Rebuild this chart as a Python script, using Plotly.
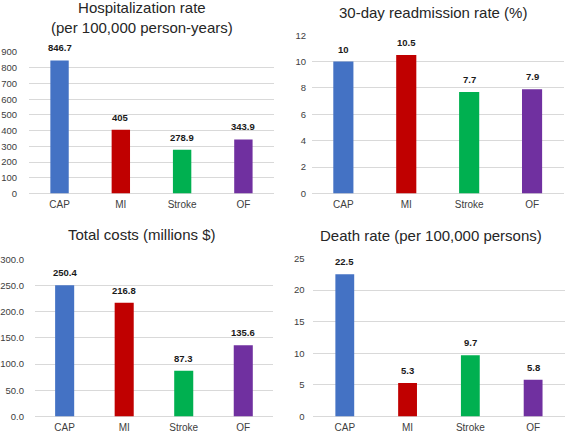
import plotly.graph_objects as go

W, H = 567, 438
categories = ["CAP", "MI", "Stroke", "OF"]
colors = ["#4472C4", "#C00000", "#00B050", "#7030A0"]

hosp_rate = [846.7, 405, 278.9, 343.9]
readmit_rate = [10, 10.5, 7.7, 7.9]
total_costs = [250.4, 216.8, 87.3, 135.6]
death_rate = [22.5, 5.3, 9.7, 5.8]

hosp_labels = ["846.7", "405", "278.9", "343.9"]
readmit_labels = ["10", "10.5", "7.7", "7.9"]
cost_labels = ["250.4", "216.8", "87.3", "135.6"]
death_labels = ["22.5", "5.3", "9.7", "5.8"]

titles = ["Hospitalization rate<br>(per 100,000 person-years)",
          "30-day readmission rate (%)",
          "Total costs (millions $)",
          "Death rate (per 100,000 persons)"]

FONT = "Arial, Liberation Sans, sans-serif"

# panel geometry in pixels: (x_left, x_right, y_bottom_px, y_top_px)
panels = [
    dict(vals=hosp_rate, labels=hosp_labels, x=(27, 273), y=(192.3, 47.3), rng=(0, 900), dtick=100, fmt="d", ticklen=9, bw=0.3,
         title_xy=(140, 12)),
    dict(vals=readmit_rate, labels=readmit_labels, x=(311, 563.5), y=(192.3, 30), rng=(0, 12), dtick=2, fmt="d", ticklen=3, bw=0.32,
         title_xy=(433, 7)),
    dict(vals=total_costs, labels=cost_labels, x=(33, 272), y=(421, 259.7), rng=(0, 300), dtick=50, fmt=".1f", ticklen=8, bw=0.32,
         title_xy=(140, 234)),
    dict(vals=death_rate, labels=death_labels, x=(312.5, 564.5), y=(421, 259), rng=(0, 25), dtick=5, fmt="d", ticklen=6, bw=0.3,
         title_xy=(431, 235)),
]

fig = go.Figure()
annotations = []
for i, p in enumerate(panels):
    n = "" if i == 0 else str(i + 1)
    fig.add_trace(go.Bar(
        x=categories, y=p["vals"], marker=dict(color=colors, line=dict(width=0)),
        width=p["bw"], xaxis="x" + n, yaxis="y" + n, showlegend=False,
        hoverinfo="x+y",
    ))
    fig.update_layout(**{
        "xaxis" + n: dict(
            domain=[p["x"][0] / W, p["x"][1] / W], anchor="y" + n,
            range=[-0.5, 3.5],
            showgrid=False, showline=False, zeroline=False,
            ticks="outside", ticklen=2, tickcolor="rgba(0,0,0,0)",
            tickfont=dict(family=FONT, size=10, color="#404040"),
            fixedrange=True,
        ),
        "yaxis" + n: dict(
            domain=[1 - p["y"][0] / H, 1 - p["y"][1] / H], anchor="x" + n,
            range=list(p["rng"]), dtick=p["dtick"], tickformat=p["fmt"],
            showgrid=True, gridcolor="#D9D9D9", gridwidth=1,
            zeroline=True, zerolinecolor="#D9D9D9", zerolinewidth=1,
            showline=False,
            ticks="outside", ticklen=p["ticklen"], tickcolor="rgba(0,0,0,0)",
            tickfont=dict(family=FONT, size=9.5, color="#404040"),
            fixedrange=True,
        ),
    })
    for c, v, lab in zip(categories, p["vals"], p["labels"]):
        annotations.append(dict(
            x=c, y=v, xref="x" + n, yref="y" + n, text="<b>" + lab + "</b>",
            showarrow=False, yanchor="bottom", yshift=5,
            font=dict(family=FONT, size=9.5, color="#1a1a1a"),
        ))
    tx, ty = p["title_xy"]
    annotations.append(dict(
        x=tx / W, y=1 - ty / H, xref="paper", yref="paper", text=titles[i],
        showarrow=False, xanchor="center", yanchor="middle",
        font=dict(family=FONT, size=15, color="#262626"),
    ))

fig.update_layout(
    width=W, height=H, margin=dict(l=0, r=0, t=0, b=0),
    paper_bgcolor="white", plot_bgcolor="white",
    annotations=annotations,
)
fig.write_html("out.html", config={"displayModeBar": False},
               post_script="document.body.style.margin='0';document.body.style.overflow='hidden';")
